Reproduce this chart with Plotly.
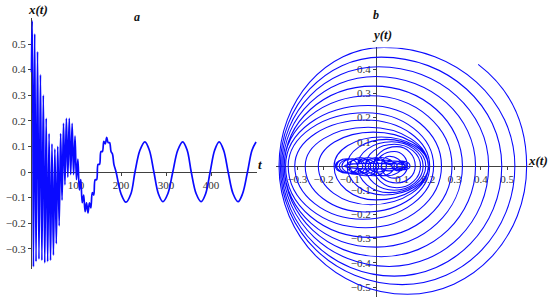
import plotly.graph_objects as go

W, H = 550, 302

# panel a: turning points of x(t) (t, x)
T_A = [0, 2.8, 5.4, 8.2, 11.2, 14.5, 17.7, 21.0, 24.2, 27.4, 30.6, 33.8, 37.0, 40.2,
       43.4, 46.6, 49.8, 53.0, 56.2, 59.4, 62.6, 65.8, 69.0, 72.2, 75.4, 78.6, 81.8,
       85.0, 88.2, 91.4, 94.6, 97.8, 101.0, 104.2, 107.4, 110.6, 113.8, 117.0, 120.2,
       123.4, 126.6, 129.8, 133.0, 136.2, 139.4, 142.6, 145.8, 149.0, 152.2, 155.4,
       158.6, 161.8, 165.0, 168.2, 171.4, 174.6, 177.8, 181.0, 184.2, 189, 200, 211,
       222, 231, 242, 253, 263, 273, 283, 293, 304, 315, 326, 337, 347, 356, 367, 378,
       388, 398, 408, 418, 428, 438, 449, 460, 470, 481, 491, 500]
X_A = [0.39, 0.59, -0.37, 0.54, -0.35, 0.47, -0.34, 0.38, -0.345, 0.30, -0.355, 0.21,
       -0.35, 0.15, -0.345, 0.11, -0.325, 0.09, -0.28, 0.10, -0.21, 0.15, -0.11, 0.19,
       -0.05, 0.21, -0.02, 0.21, -0.01, 0.19, -0.01, 0.14, -0.03, 0.05, -0.07, -0.03,
       -0.12, -0.09, -0.155, -0.12, -0.16, -0.12, -0.14, -0.08, -0.09, -0.03, -0.03,
       0.03, 0.03, 0.08, 0.08, 0.12, 0.11, 0.135, 0.115, 0.115, 0.08, 0.07, 0.03, 0.0,
       -0.085, -0.118, -0.085, 0.0, 0.085, 0.118, 0.085, 0.0, -0.085, -0.116, -0.085,
       0.0, 0.085, 0.118, 0.085, 0.0, -0.085, -0.116, -0.085, 0.0, 0.085, 0.118, 0.085,
       0.0, -0.085, -0.116, -0.085, 0.0, 0.085, 0.117]

# panel b: phase portrait, extreme points of each clockwise loop
START_B = (0.39, 0.42)
RIGHT_B = [0.575, 0.53, 0.48, 0.43, 0.38, 0.33, 0.29, 0.25, 0.22, 0.205, 0.2, 0.2, 0.2,
           0.19, 0.18, 0.17, 0.15, 0.12, 0.1, 0.07, 0.04, 0.01, -0.02, -0.05, -0.07,
           -0.07, -0.04, 0.0, 0.04, 0.08, 0.11, 0.13, 0.12, 0.12, 0.12, 0.12, 0.12, 0.12]
BOTTOM_X_B = [0.12, 0.10, 0.07, 0.05, 0.02, 0.0, -0.02, -0.04, -0.05, -0.04, -0.02, 0.0,
              0.03, 0.05, 0.07, 0.08, 0.08, 0.07, 0.04, 0.02, -0.01, -0.04, -0.07, -0.1,
              -0.11, -0.1, -0.07, -0.03, 0.01, 0.05, 0.09, 0.11, 0.09, 0.0, 0.0, 0.0, 0.0, 0.0]
BOTTOM_Y_B = [-0.53, -0.49, -0.455, -0.415, -0.375, -0.335, -0.295, -0.255, -0.22, -0.19,
              -0.16, -0.14, -0.12, -0.11, -0.1, -0.09, -0.07, -0.05, -0.04, -0.04, -0.04,
              -0.04, -0.035, -0.03, -0.03, -0.03, -0.03, -0.03, -0.025, -0.02, -0.02,
              -0.015, -0.015, -0.012, -0.012, -0.012, -0.012, -0.012]
LEFT_B = [-0.37, -0.365, -0.36, -0.355, -0.35, -0.35, -0.345, -0.335, -0.31, -0.27, -0.22,
          -0.16, -0.11, -0.07, -0.04, -0.01, 0.0, 0.02, -0.01, -0.04, -0.07, -0.1, -0.13,
          -0.15, -0.155, -0.14, -0.11, -0.07, -0.03, 0.02, 0.06, 0.08, 0.06, -0.12, -0.12,
          -0.12, -0.12, -0.12]
TOP_X_B = [0.03, 0.02, 0.01, 0.0, -0.01, -0.02, -0.03, -0.04, -0.04, -0.03, -0.01, 0.02,
           0.04, 0.06, 0.07, 0.08, 0.07, 0.05, 0.02, 0.0, -0.03, -0.06, -0.09, -0.11, -0.11,
           -0.09, -0.05, -0.01, 0.03, 0.07, 0.1, 0.1, 0.0, 0.0, 0.0, 0.0, 0.0, 0.0]
TOP_Y_B = [0.49, 0.45, 0.41, 0.37, 0.33, 0.29, 0.25, 0.22, 0.19, 0.16, 0.14, 0.12, 0.11,
           0.1, 0.09, 0.08, 0.06, 0.04, 0.035, 0.035, 0.035, 0.035, 0.03, 0.03, 0.03, 0.03,
           0.03, 0.03, 0.025, 0.02, 0.02, 0.015, 0.012, 0.012, 0.012, 0.012, 0.012, 0.012]

BLUE = "#0a0aff"
AXIS = "#404040"
SERIF = "Liberation Serif, Times New Roman, serif"
K = 0.5523  # bezier handle for a quarter ellipse


def fx(p):
    return p / W


def fy(p):
    return 1 - p / H


def phase_path():
    # quarter-ellipse bezier arcs joining the extreme points of each loop
    xs, ys = START_B
    r0 = RIGHT_B[0]
    parts = [f"M{xs},{ys}",
             f"C{xs + (r0 - xs) * 0.55},{ys * 0.8} {r0},{ys * 0.5} {r0},0"]
    n = len(RIGHT_B)
    for i in range(n):
        r, bx, by, l = RIGHT_B[i], BOTTOM_X_B[i], BOTTOM_Y_B[i], LEFT_B[i]
        tx, ty = TOP_X_B[i], TOP_Y_B[i]
        parts.append(f"C{r},{by * K} {bx + (r - bx) * K},{by} {bx},{by}")
        parts.append(f"C{bx - (bx - l) * K},{by} {l},{by * K} {l},0")
        parts.append(f"C{l},{ty * K} {tx - (tx - l) * K},{ty} {tx},{ty}")
        if i + 1 < n:
            rn = RIGHT_B[i + 1]
            parts.append(f"C{tx + (rn - tx) * K},{ty} {rn},{ty * K} {rn},0")
    return " ".join(parts)


ext_x = [START_B[0]]
ext_y = [START_B[1]]
for r, bx, by, l, tx, ty in zip(RIGHT_B, BOTTOM_X_B, BOTTOM_Y_B, LEFT_B, TOP_X_B, TOP_Y_B):
    ext_x += [r, bx, l, tx]
    ext_y += [0, by, 0, ty]

fig = go.Figure()
fig.add_trace(go.Scatter(x=T_A, y=X_A, mode="lines", xaxis="x", yaxis="y",
                         line=dict(color=BLUE, width=1.7, shape="spline", smoothing=1.0,
                                   simplify=False)))
fig.add_trace(go.Scatter(x=ext_x, y=ext_y, mode="markers", xaxis="x2", yaxis="y2",
                         marker=dict(size=1, opacity=0), hoverinfo="skip"))
fig.add_shape(type="path", path=phase_path(), xref="x2", yref="y2",
              line=dict(color=BLUE, width=1.1), fillcolor="rgba(0,0,0,0)")

axis_common = dict(showgrid=False, zeroline=False, showline=True, linecolor=AXIS,
                   linewidth=1, ticks="outside", ticklen=3, tickcolor=AXIS,
                   tickfont=dict(family=SERIF, size=11, color="#333"),
                   anchor="free", layer="below traces")

fig.update_layout(
    width=W, height=H,
    margin=dict(l=0, r=0, t=0, b=0),
    paper_bgcolor="white", plot_bgcolor="rgba(0,0,0,0)",
    showlegend=False,
    xaxis=dict(axis_common, domain=[fx(30.55), fx(257.4)], range=[-1, 503],
               position=fy(172), tickvals=[100, 200, 300, 400]),
    yaxis=dict(axis_common, domain=[fy(269.3), fy(18.4)], range=[-0.38, 0.6],
               position=fx(31), tickvals=[-0.3, -0.2, -0.1, 0, 0.1, 0.2, 0.3, 0.4, 0.5],
               ticktext=["\u22120.3", "\u22120.2", "\u22120.1", "0", "0.1", "0.2", "0.3", "0.4", "0.5"]),
    xaxis2=dict(axis_common, domain=[fx(276.4), fx(533.2)], range=[-0.38, 0.6],
                position=fy(166), tickvals=[-0.3, -0.2, -0.1, 0.1, 0.2, 0.3, 0.4, 0.5],
                ticktext=["\u22120.3", "\u22120.2", "\u22120.1", "0.1", "0.2", "0.3", "0.4", "0.5"]),
    yaxis2=dict(axis_common, domain=[fy(296.7), fy(47.4)], range=[-0.54, 0.49],
                position=fx(376),
                tickvals=[-0.5, -0.4, -0.3, -0.2, -0.1, 0.1, 0.2, 0.3, 0.4],
                ticktext=["\u22120.5", "\u22120.4", "\u22120.3", "\u22120.2", "\u22120.1",
                          "0.1", "0.2", "0.3", "0.4"]),
)

labels = [
    ("<b><i>x(t)</i></b>", 38, 10, 13),
    ("<b><i>a</i></b>", 137, 17, 12),
    ("<b><i>t</i></b>", 260, 164, 13),
    ("<b><i>b</i></b>", 376, 15, 12),
    ("<b><i>y(t)</i></b>", 382, 34, 13),
    ("<b><i>x(t)</i></b>", 538, 161, 13),
]
for text, x, y, size in labels:
    fig.add_annotation(text=text, x=fx(x), y=fy(y), xref="paper", yref="paper",
                       xanchor="center", yanchor="middle", showarrow=False,
                       font=dict(family=SERIF, size=size, color="#111"))

# the page's default 8px body margin would push the figure off the window
fig.write_html("out.html", config={"displayModeBar": False},
               post_script="document.body.style.margin='0px';")
